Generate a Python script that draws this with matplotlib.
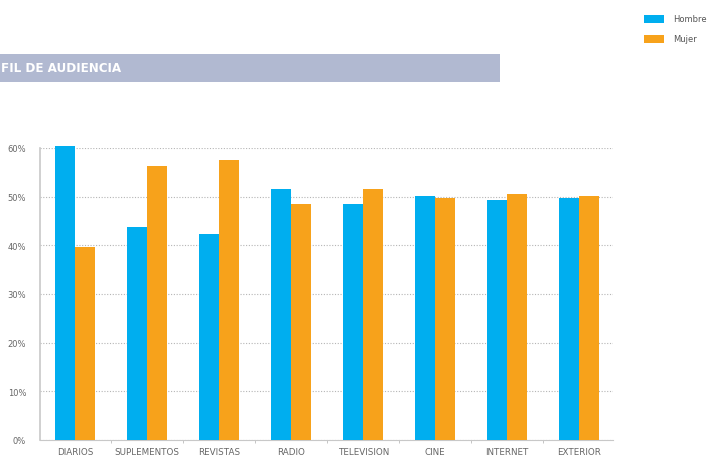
import matplotlib.pyplot as plt
import numpy as np
from matplotlib.patches import Rectangle

categorias = ['DIARIOS', 'SUPLEMENTOS', 'REVISTAS', 'RADIO', 'TELEVISION', 'CINE', 'INTERNET', 'EXTERIOR']
hombre = [60.4, 43.7, 42.4, 51.6, 48.4, 50.2, 49.4, 49.8]
mujer = [39.6, 56.3, 57.6, 48.4, 51.6, 49.8, 50.6, 50.2]

azul = '#00AEEF'
naranja = '#F7A21B'

fig = plt.figure(figsize=(7.11, 4.56), dpi=100)
ax = fig.add_axes([40 / 711, 1 - 441 / 456, (613 - 40) / 711, (441 - 149) / 456])

x = np.arange(len(categorias))
w = 0.28
b1 = ax.bar(x - w / 2, np.array(hombre) / 100, w, color=azul, label='Hombre', clip_on=False, zorder=3)
b2 = ax.bar(x + w / 2, np.array(mujer) / 100, w, color=naranja, label='Mujer', clip_on=False, zorder=3)

ax.set_xlim(-0.49, 7.47)
ax.set_ylim(0, 0.60)
ax.set_yticks(np.arange(0, 0.61, 0.1))
ax.set_yticklabels([f'{int(round(v * 100))}%' for v in np.arange(0, 0.61, 0.1)])
ax.yaxis.grid(True, linestyle=(0, (1, 1.5)), color='#b5b5b5', linewidth=0.8, zorder=0)
ax.set_axisbelow(True)

ax.set_xticks(x)
ax.set_xticklabels(categorias)
ax.set_xticks(x[:-1] + 0.5, minor=True)
ax.tick_params(axis='x', which='major', length=0, labelsize=6.3, labelcolor='#666666', pad=5)
ax.tick_params(axis='x', which='minor', length=2, color='#bbbbbb')
ax.tick_params(axis='y', length=0, labelsize=6, labelcolor='#666666', pad=10)

for s in ['top', 'right']:
    ax.spines[s].set_visible(False)
ax.spines['left'].set_color('#c8c8c8')
ax.spines['bottom'].set_color('#c8c8c8')
ax.spines['left'].set_linewidth(1.2)

# banda del titulo
fig.patches.append(Rectangle((0, 1 - 83 / 456), 500 / 711, 28 / 456, transform=fig.transFigure,
                             facecolor='#b1b9d1', edgecolor='none'))
fig.text(1 / 711, 1 - 69 / 456, 'FIL DE AUDIENCIA', color='white', fontsize=9.5,
         fontweight='bold', fontstretch='condensed', va='center', ha='left',
         family='DejaVu Sans')

fig.legend(handles=[b1, b2], labels=['Hombre', 'Mujer'], loc='upper left',
           bbox_to_anchor=(636 / 711, 1 - 8 / 456), frameon=False, fontsize=6,
           handlelength=2.4, handleheight=1.1, labelspacing=1.3, handletextpad=1.2,
           labelcolor='#555555')

fig.savefig('out.png', dpi=100)
